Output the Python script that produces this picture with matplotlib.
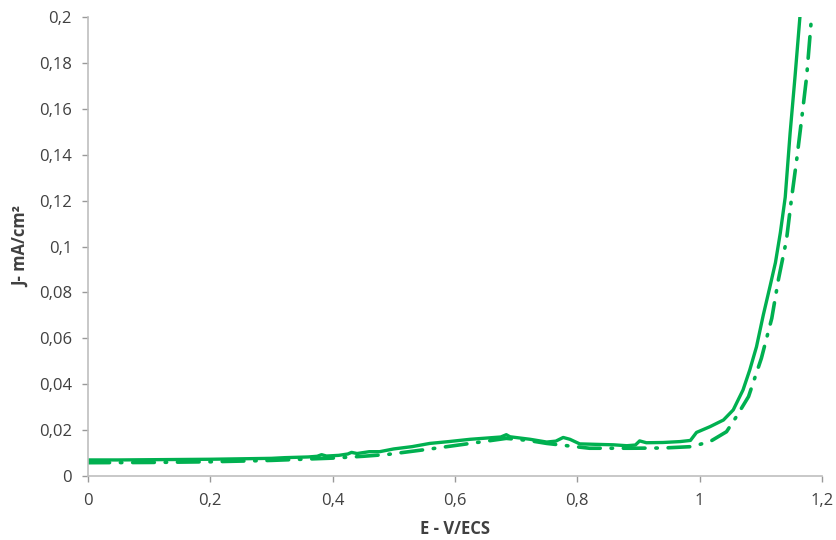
import numpy as np
import matplotlib
matplotlib.use("Agg")
import matplotlib.pyplot as plt

plt.rcParams['font.family'] = ['Open Sans', 'DejaVu Sans']

# solid curve
E1 = [0.0, 0.05, 0.1, 0.15, 0.2, 0.25, 0.3, 0.322, 0.36, 0.375, 0.382, 0.39, 0.41, 0.425,
      0.431, 0.44, 0.46, 0.477, 0.5, 0.53, 0.559, 0.59, 0.625, 0.65, 0.675, 0.684, 0.69,
      0.723, 0.75, 0.765, 0.777, 0.788, 0.804, 0.83, 0.859, 0.881, 0.895, 0.902, 0.913,
      0.94, 0.968, 0.985, 0.995, 1.017, 1.039, 1.055, 1.071, 1.082, 1.093, 1.104, 1.115,
      1.124, 1.132, 1.140, 1.148, 1.156, 1.164]
J1 = [0.0070, 0.0070, 0.0071, 0.0072, 0.0073, 0.0075, 0.0077, 0.0080, 0.0083, 0.0086, 0.0093,
      0.0087, 0.0090, 0.0096, 0.0103, 0.0098, 0.0106, 0.0106, 0.0118, 0.0128, 0.0142, 0.0150,
      0.0160, 0.0165, 0.0170, 0.0180, 0.0171, 0.0160, 0.0148, 0.0152, 0.0168, 0.0160, 0.0140,
      0.0138, 0.0136, 0.0132, 0.0135, 0.0153, 0.0145, 0.0146, 0.0150, 0.0155, 0.0190, 0.0215,
      0.0244, 0.0288, 0.0375, 0.0462, 0.0563, 0.0700, 0.0825, 0.0930, 0.1060, 0.1215, 0.1495,
      0.1740, 0.2000]

# dash-dot curve
E2 = [0.0, 0.1, 0.2, 0.3, 0.4, 0.45, 0.49, 0.56, 0.625, 0.684, 0.72, 0.75, 0.82, 0.886, 0.94,
      0.987, 1.017, 1.044, 1.060, 1.080, 1.101, 1.118, 1.129, 1.142, 1.150, 1.159, 1.167,
      1.175, 1.183]
J2 = [0.0058, 0.0059, 0.0062, 0.0068, 0.0078, 0.0086, 0.0094, 0.0118, 0.0142, 0.0164, 0.0155,
      0.0142, 0.0121, 0.0121, 0.0122, 0.0128, 0.0150, 0.0193, 0.0258, 0.0346, 0.0513, 0.0687,
      0.0858, 0.1028, 0.1203, 0.1384, 0.1559, 0.1740, 0.2000]

xticks = [0, 0.2, 0.4, 0.6, 0.8, 1.0, 1.2]
xlabels = ['0', '0,2', '0,4', '0,6', '0,8', '1', '1,2']
yticks = [0, 0.02, 0.04, 0.06, 0.08, 0.1, 0.12, 0.14, 0.16, 0.18, 0.2]
ylabels = ['0', '0,02', '0,04', '0,06', '0,08', '0,1', '0,12', '0,14', '0,16', '0,18', '0,2']

green = '#00B050'
fig = plt.figure(figsize=(8.37, 5.4), dpi=100)
ax = fig.add_axes([0.105, 0.1185, 0.877, 0.85])

ax.plot(E1, J1, color=green, lw=2.4, solid_joinstyle='round')
ax.plot(E2, J2, color=green, lw=2.6, linestyle=(0, (6, 3, 0.4, 3)), dash_capstyle='round')

ax.set_xlim(0, 1.2)
ax.set_ylim(0, 0.2)
ax.set_xticks(xticks)
ax.set_xticklabels(xlabels)
ax.set_yticks(yticks)
ax.set_yticklabels(ylabels)
ax.tick_params(labelsize=12, colors='#999999', labelcolor='#404040', length=4.5, width=1)
ax.tick_params(axis='y', pad=7)
ax.tick_params(axis='x', pad=8)
for s in ['top', 'right']:
    ax.spines[s].set_visible(False)
for s in ['left', 'bottom']:
    ax.spines[s].set_color('#BFBFBF')
    ax.spines[s].set_linewidth(1.2)

ax.set_xlabel('E - V/ECS', fontsize=12, fontweight='bold', color='#404040', labelpad=8)
ax.set_ylabel('J- mA/cm²', fontsize=12, fontweight='bold', color='#404040', labelpad=6)

plt.savefig('out.png', dpi=100)
